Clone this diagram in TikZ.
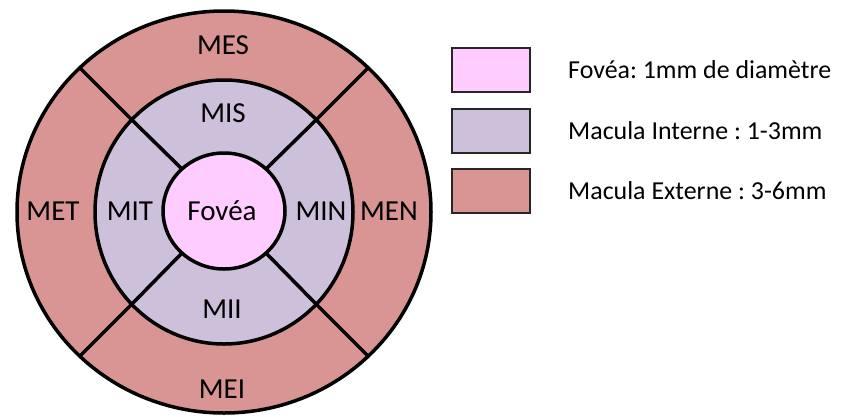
\documentclass[tikz,border=0pt]{standalone}
\usepackage{fontspec}
\setmainfont{Carlito}
\frenchspacing
\usetikzlibrary{shapes.geometric}
\definecolor{fovcol}{HTML}{FFCCFF}
\definecolor{intcol}{HTML}{CCC0DA}
\definecolor{extcol}{HTML}{D99594}
\begin{document}
\begin{tikzpicture}[x=1pt,y=-1pt,
  ring/.style={ellipse,draw=black,line width=3.5pt,inner sep=0pt,outer sep=0pt},
  divider/.style={draw=black,line width=3.5pt},
  lab/.style={font=\fontsize{29}{32}\selectfont,inner sep=0pt},
  legbox/.style={draw=black!85,line width=2.2pt,minimum width=78pt,minimum height=44pt,inner sep=0pt},
  legtext/.style={font=\fontsize{25.9}{30}\selectfont,anchor=west,inner sep=0pt}]
\useasboundingbox (0,0) rectangle (843,416);
\node[ring,fill=extcol,minimum width=414pt,minimum height=402pt] (outer) at (224,212) {};
\node[ring,fill=intcol,minimum width=258pt,minimum height=264pt] (inner) at (224,212) {};
\draw[divider] (outer.45) -- (inner.45);
\draw[divider] (outer.135) -- (inner.135);
\draw[divider] (outer.225) -- (inner.225);
\draw[divider] (outer.315) -- (inner.315);
\node[ring,fill=fovcol,minimum width=122pt,minimum height=116pt] (fov) at (224,211) {};
\draw[divider] (inner.45) -- (fov.45);
\draw[divider] (inner.135) -- (fov.135);
\draw[divider] (inner.225) -- (fov.225);
\draw[divider] (inner.315) -- (fov.315);
\node[lab] (fovlab) at (222,211) {Fovéa};
\node[lab] (mes) at (223,45) {MES};
\node[lab] (mis) at (223,113) {MIS};
\node[lab] (mii) at (222,309) {MII};
\node[lab] (mei) at (222,389) {MEI};
\node[lab] (met) at (53,211) {MET};
\node[lab] (mit) at (130,211) {MIT};
\node[lab] (min) at (321,211) {MIN};
\node[lab] (men) at (389,211) {MEN};
\node[legbox,fill=fovcol] (b1) at (491,70) {};
\node[legbox,fill=intcol] (b2) at (491,131) {};
\node[legbox,fill=extcol] (b3) at (491,191) {};
\node[legtext] (t1) at (568,70) {Fovéa: 1mm de diamètre};
\node[legtext] (t2) at (568,131) {Macula Interne : 1-3mm};
\node[legtext] (t3) at (568,191) {Macula Externe : 3-6mm};
\end{tikzpicture}
\end{document}
